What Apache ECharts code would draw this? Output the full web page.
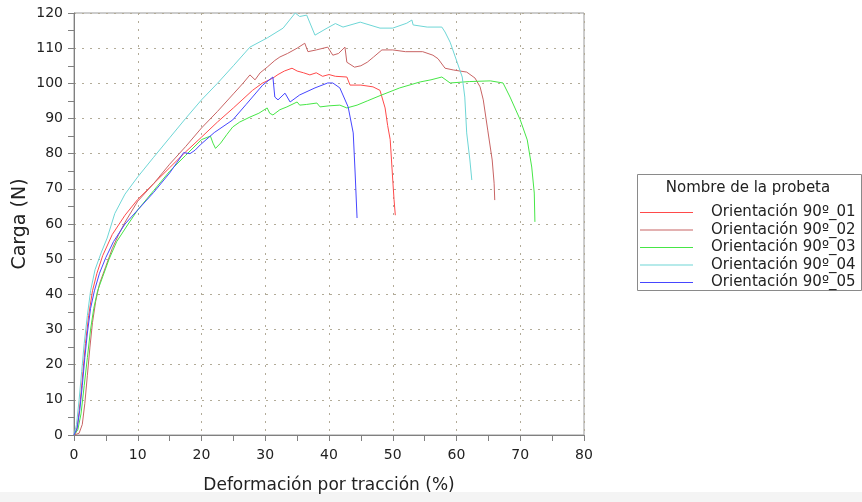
<!DOCTYPE html>
<html>
<head>
<meta charset="utf-8">
<script src="https://cdn.jsdelivr.net/npm/echarts@6/dist/echarts.min.js"></script>
<style>
  html, body { margin: 0; padding: 0; background: #fff; }
  #chart { width: 862px; height: 502px; }
</style>
</head>
<body>
<div id="chart"></div>
<script>
// ensayo de tracción, orientación 90º — [deformación %, carga N]
const probeta01 = [[0,0],[0.4,1],[0.7,5],[1,10],[1.4,18],[1.8,26],[2.3,34],[2.9,41],[3.6,46],[4.5,51],[6,57],[8,62.5],[10,67],[12.5,71.5],[15,76],[17.5,80.5],[20,84.7],[22.5,89],[25,93],[26.5,95.5],[28,98],[29.5,100],[31.2,101.5],[32,102.5],[33,103.5],[34.2,104.3],[35,103.5],[36,103],[37,102.4],[38,103],[39,102],[40,102.5],[41,102],[42.8,101.8],[43.3,99.5],[45,99.5],[46.9,99],[48,98],[48.8,93],[49.2,88],[49.6,84],[50,72.5],[50.2,67],[50.4,62.5]];
const probeta02 = [[0,0],[0.8,0.5],[1.3,3],[1.7,9],[2.1,17],[2.5,25],[2.9,32],[3.4,38],[4,43],[5,48],[6,53],[7,57],[8,60.5],[10,66.5],[12.5,71.5],[15,77],[17.5,82],[20,87.3],[22.5,92],[25,97],[26.5,100],[27.6,102.4],[28.4,101],[29.2,103],[30.3,104.6],[31.5,106.5],[32.3,107.5],[33.5,108.5],[35,110],[36.2,111.4],[36.7,109],[38,109.5],[39.8,110.3],[40.6,108],[41.5,108.5],[42.5,110.3],[42.8,106],[44,104.6],[45,105],[46,106],[47,107.5],[48.3,109.5],[50,109.5],[52,109],[54.7,109],[56.3,108],[57.1,107],[58.2,104.3],[59.5,103.8],[61.6,103.2],[62.9,101.5],[63.7,99],[64.2,95.3],[64.9,86.7],[65.6,78.2],[65.9,71.6],[66,66.8]];
const probeta03 = [[0,0],[0.6,1.5],[1.1,6],[1.6,14],[2.1,22],[2.6,30],[3.1,36],[3.7,41],[4.5,45],[5.5,50],[6.7,55],[8.5,60],[10,64],[12.5,69.5],[15,75],[17.5,79.5],[20,84],[21.4,85],[21.8,83],[22.2,81.5],[23,83],[24,85.5],[24.9,87.6],[26,89],[27.6,90.4],[29,91.5],[30.3,93],[30.7,91.5],[31.2,91],[32.3,92.5],[33.4,93.3],[35,94.7],[35.4,93.8],[36.5,94],[38.1,94.4],[38.6,93.3],[40,93.6],[41.7,93.8],[42.8,93],[44.4,93.8],[46,95],[48,96.5],[51.1,98.7],[54.3,100.4],[56,101],[57.7,101.8],[59,100.1],[62,100.5],[65.3,100.7],[67.3,100.1],[68.4,96.1],[70,89.6],[71.1,83.9],[71.8,76.2],[72.2,68.8],[72.3,60.6]];
const probeta04 = [[0,0],[0.4,3],[0.8,10],[1.2,18],[1.6,26],[2.1,34],[2.6,41],[3.3,47],[4.3,52],[5.2,56],[6.4,63],[8,68.5],[10,73.4],[12.5,79],[15,84.5],[17.5,90],[20,95.3],[22.5,100],[25,105],[27.6,110.3],[30.3,112.9],[32.8,115.7],[34.7,120],[35.4,119],[36.5,119.4],[37.8,113.7],[39.7,115.7],[41,117],[42.2,116],[44.9,117.4],[48,115.7],[50,115.7],[52.2,117.1],[53,118],[53.2,116.6],[55.4,116],[57.7,116],[58.2,114.6],[59,111.7],[60.1,106],[60.9,101.8],[61.3,96.1],[61.6,85.9],[62.1,78.2],[62.4,72.5]];
const probeta05 = [[0,0],[0.5,2],[0.9,7],[1.3,14],[1.7,22],[2.1,29],[2.6,36],[3.2,41],[4,46],[5,50.5],[6.2,55],[8,60],[10,64],[12.5,69],[15,74.5],[16.2,77.6],[17.2,80.3],[18.2,80],[19,81],[19.8,82.5],[22,86],[24.9,89.6],[27,94],[29.6,99.5],[31.2,101.8],[31.5,96.1],[32,95.3],[33.1,97.2],[33.9,94.7],[35.4,96.7],[37.8,98.7],[39.8,100.1],[40.6,100.1],[41.7,98.7],[43,93.3],[43.8,85.9],[44.1,74.5],[44.4,61.7]];

const nombres = ['Orientación 90º_01', 'Orientación 90º_02', 'Orientación 90º_03', 'Orientación 90º_04', 'Orientación 90º_05'];
const datos = [probeta01, probeta02, probeta03, probeta04, probeta05];
const colores = ['#ff4a4a', '#c86464', '#46e646', '#6ed6d6', '#4646ff'];

const font = 'DejaVu Sans, Verdana, sans-serif';

const option = {
  animation: false,
  backgroundColor: '#fff',
  grid: {
    left: 74,
    top: 13,
    width: 510,
    height: 422,
    outerBoundsMode: 'none',
    show: true,
    borderColor: '#9a9a9a',
    borderWidth: 1,
  },
  legend: {
    orient: 'vertical',
    left: 640,
    top: 204,
    padding: 0,
    itemWidth: 53,
    itemHeight: 1,
    itemGap: 0.5,
    icon: 'rect',
    data: nombres,
    textStyle: {
      fontFamily: font,
      fontSize: 15,
      lineHeight: 17,
      color: '#222',
      padding: [0, 0, 0, 13],
    },
  },
  graphic: [
    {
      type: 'rect',
      shape: {x: 0, y: 492, width: 862, height: 10},
      style: {fill: '#f4f4f4'},
      silent: true,
      z: -1,
    },
    {
      type: 'rect',
      shape: {x: 637.5, y: 174.5, width: 224, height: 116},
      style: {fill: 'none', stroke: '#8a8a8a', lineWidth: 1},
      silent: true,
    },
    {
      type: 'text',
      x: 748,
      y: 188,
      style: {
        text: 'Nombre de la probeta',
        fontFamily: font,
        fontSize: 15,
        fill: '#222',
        align: 'center',
        verticalAlign: 'middle',
      },
      silent: true,
    },
  ],
  xAxis: {
    type: 'value',
    min: 0,
    max: 80,
    interval: 10,
    name: 'Deformación por tracción (%)',
    nameLocation: 'middle',
    nameGap: 42,
    nameTextStyle: {fontFamily: font, fontSize: 17, color: '#222'},
    axisLine: {lineStyle: {color: '#808080'}},
    axisTick: {show: true, length: 6, lineStyle: {color: '#808080'}},
    minorTick: {show: true, splitNumber: 2, length: 6, lineStyle: {color: '#808080'}},
    axisLabel: {fontFamily: font, fontSize: 14, color: '#222', margin: 13},
    splitLine: {show: true, lineStyle: {color: '#b2ab98', type: [2, 6], width: 1}},
  },
  yAxis: {
    type: 'value',
    min: 0,
    max: 120,
    interval: 10,
    name: 'Carga (N)',
    nameLocation: 'middle',
    nameGap: 44,
    nameMoveOverlap: false,
    nameTextStyle: {fontFamily: font, fontSize: 19, color: '#222'},
    axisLine: {show: true, lineStyle: {color: '#808080'}},
    axisTick: {show: true, length: 6, lineStyle: {color: '#808080'}},
    minorTick: {show: true, splitNumber: 2, length: 6, lineStyle: {color: '#808080'}},
    axisLabel: {fontFamily: font, fontSize: 14, color: '#222', margin: 11},
    splitLine: {show: true, lineStyle: {color: '#b2ab98', type: [2, 6], width: 1}},
  },
  series: nombres.map((n, i) => ({
    name: n,
    type: 'line',
    data: datos[i],
    color: colores[i],
    showSymbol: false,
    lineStyle: {width: 1},
  })),
};

const myChart = echarts.init(document.getElementById('chart'));
myChart.setOption(option);
</script>
</body>
</html>
